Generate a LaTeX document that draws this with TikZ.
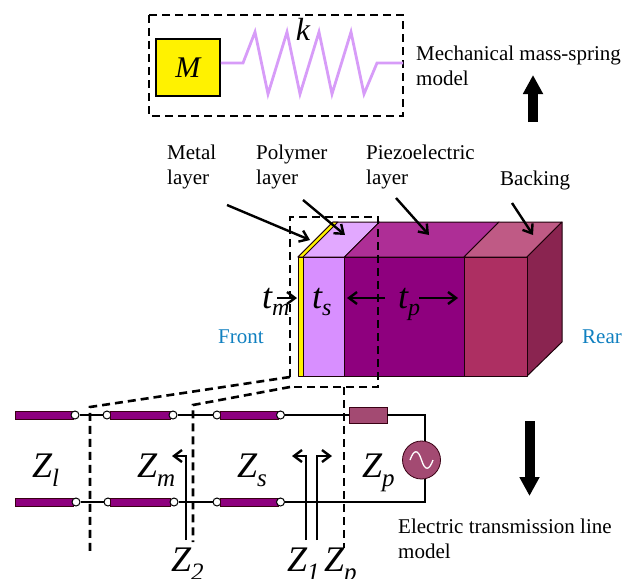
\documentclass[tikz,border=0pt]{standalone}
\usepackage{fontspec}
\setmainfont{Liberation Serif}
\usetikzlibrary{arrows.meta}
\definecolor{piezoF}{HTML}{8E007E}
\definecolor{piezoT}{HTML}{AE2E96}
\definecolor{polyF}{HTML}{D88FFF}
\definecolor{polyT}{HTML}{E2A8FF}
\definecolor{backF}{HTML}{AD2F62}
\definecolor{backT}{HTML}{BF5A85}
\definecolor{backR}{HTML}{8A2450}
\definecolor{elem}{HTML}{A34A72}
\definecolor{springc}{HTML}{D79CF8}
\definecolor{sideblue}{HTML}{1080C0}
\tikzset{
  dashln/.style={draw=black,line width=2.6pt,dash pattern=on 8pt off 5pt},
  wire/.style={draw=black,line width=2pt},
  face/.style={draw=black!85!purple,line width=1pt,line join=round},
  lead/.style={draw=black,line width=2.4pt,-{Straight Barb[length=8pt,width=12pt,line width=2.4pt]}},
  seg/.style={draw=black!70!purple,line width=0.6pt,fill=piezoF,minimum height=8pt,inner sep=0pt},
  term/.style={circle,draw=black,fill=white,line width=1pt,minimum size=8pt,inner sep=0pt},
  lab/.style={font=\fontsize{21}{25.5}\selectfont,align=left,inner sep=0pt,text=black},
  sym/.style={font=\fontsize{36}{36}\selectfont\itshape,inner sep=0pt},
  big/.style={draw=black,line width=10pt,-{Triangle[length=19pt,width=19pt]}}
}
\newcommand{\sy}[2]{#1\raisebox{-9pt}{\fontsize{25}{25}\selectfont #2}}
\newcommand{\syt}[2]{#1\raisebox{-7pt}{\fontsize{24}{24}\selectfont #2}}
\begin{document}
\begin{tikzpicture}[x=1pt,y=-1pt]
\useasboundingbox (0,0) rectangle (626,578);
% mass-spring
\draw[dashln] (149,15) rectangle (403,116);
\node[draw=black,line width=1.9pt,fill=yellow,minimum width=64pt,minimum height=57pt,inner sep=0pt,anchor=north west,font=\fontsize{30}{30}\selectfont\itshape] (mass) at (155,38) {M};
\coordinate (springend) at (403,63);
\draw[draw=springc,line width=2.8pt,line join=miter] (mass.east |- springend) -- (243,63) -- (255,32) -- (268,94) -- (287,32) -- (300,94) -- (319,32) -- (332,94) -- (351,32) -- (364,94) -- (377,63) -- (springend);
\node[font=\fontsize{32}{32}\selectfont\itshape,inner sep=0pt,anchor=base] (klab) at (303,41) {k};
\node[lab,anchor=north west] (mech) at (416,45.5) {Mechanical mass-spring\\model};
\draw[big] (533,122) -- (533,75);
% labels above block
\node[lab,anchor=north west] (metal) at (167,144.5) {Metal\\layer};
\node[lab,anchor=north west] (poly) at (256,144.5) {Polymer\\layer};
\node[lab,anchor=north west] (piezo) at (366,144.5) {Piezoelectric\\layer};
\node[lab,anchor=north west] (back) at (500,170.5) {Backing};
% block
\filldraw[face,fill=polyT] (298,257) -- (333,222) -- (379.5,222) -- (344.5,257) -- cycle;
\filldraw[face,fill=yellow] (298,257) -- (333,222) -- (338,222) -- (303,257) -- cycle;
\filldraw[face,fill=piezoT] (344.5,257) -- (379.5,222) -- (499,222) -- (464,257) -- cycle;
\filldraw[face,fill=backT] (464,257) -- (499,222) -- (562,222) -- (527,257) -- cycle;
\filldraw[face,fill=backR] (527,257) -- (562,222) -- (562,342) -- (527,376) -- cycle;
\filldraw[face,fill=yellow] (298,257) rectangle (303,376);
\filldraw[face,fill=polyF] (303,257) rectangle (344.5,376);
\filldraw[face,fill=piezoF] (344.5,257) rectangle (464,376);
\filldraw[face,fill=backF] (464,257) rectangle (527,376);
% leader arrows
\coordinate (m0) at (227,205); \coordinate (m1) at (310,240);
\coordinate (p0) at (303,200); \coordinate (p1) at (345,235);
\coordinate (z0) at (396,198); \coordinate (z1) at (429,235);
\coordinate (b0) at (512,203); \coordinate (b1) at (533,235);
\draw[lead] (m0) -- (m1);
\draw[lead] (p0) -- (p1);
\draw[lead] (z0) -- (z1);
\draw[lead] (b0) -- (b1);
% thickness
\coordinate (tm0) at (277,298); \coordinate (tm1) at (297,298);
\coordinate (ts0) at (385,298); \coordinate (ts1) at (347,298);
\coordinate (tp0) at (419,298); \coordinate (tp1) at (458,298);
\draw[lead] (tm0) -- (tm1);
\draw[lead] (ts0) -- (ts1);
\draw[lead] (tp0) -- (tp1);
\node[sym,anchor=base west] (tml) at (262,308) {\syt{t}{m}};
\node[sym,anchor=base west] (tsl) at (312,308) {\syt{t}{s}};
\node[sym,anchor=base west] (tpl) at (398,308) {\syt{t}{p}};
\node[lab,text=sideblue,anchor=base west] (front) at (218,343) {Front};
\node[lab,text=sideblue,anchor=base west] (rear) at (582,343) {Rear};
% dashed crop
\coordinate (c1) at (290,217); \coordinate (c2) at (378,217); \coordinate (c3) at (378,387); \coordinate (c4) at (290,387); \coordinate (c5) at (290,377);
\coordinate (c6) at (344,387);
\coordinate (v1a) at (90,407); \coordinate (v1b) at (90,552);
\coordinate (v2a) at (193,405); \coordinate (v2b) at (193,542);
\coordinate (v3b) at (344,548);
\draw[dashln] (c5) -- (c1) -- (c2) -- (c3) -- (c4);
\draw[dashln] (c5) -- (v1a) -- (v1b);
\draw[dashln] (c4) -- (v2a) -- (v2b);
\draw[dashln] (c6) -- (v3b);
% transmission line
\coordinate (wtr) at (425,415); \coordinate (wbr) at (425,502);
\foreach \n/\b/\c/\d/\yy in {t/75/107/173/415,b/76/108/174/502}{
  \node[seg,anchor=west,minimum width=58pt] (\n s1) at (15,\yy) {};
  \node[term] (\n a) at (\b,\yy) {};
  \node[term] (\n b) at (\c,\yy) {};
  \node[seg,anchor=west,minimum width=60pt] (\n s2) at (110,\yy) {};
  \node[term] (\n c) at (\d,\yy) {};
  \node[term] (\n d) at (217,\yy) {};
  \node[seg,anchor=west,minimum width=58pt] (\n s3) at (220,\yy) {};
  \node[term] (\n e) at (280.5,\yy) {};
  \draw[wire] (\n a) -- (\n b);
  \draw[wire] (\n c) -- (\n d);
}
\node[draw=black!70!purple,line width=0.8pt,fill=elem,minimum width=38pt,minimum height=16pt,inner sep=0pt] (res) at (368,415) {};
\node[circle,draw=black!70!purple,line width=0.8pt,fill=elem,minimum size=38pt,inner sep=0pt] (src) at (421.5,460) {};
\draw[white,line width=1.3pt] (410,460) .. controls (414,449) and (418,449) .. (421.5,460) .. controls (425,471) and (429,471) .. (433,460);
\draw[wire] (te) -- (res);
\draw[wire] (res) -- (wtr) -- (src.north -| wtr);
\draw[wire] (be) -- (wbr) -- (src.south -| wbr);
% Z labels
\node[sym,anchor=base west] (zl) at (32,477) {\sy{Z}{l}};
\node[sym,anchor=base west] (zm) at (137,477) {\sy{Z}{m}};
\node[sym,anchor=base west] (zs) at (237,477) {\sy{Z}{s}};
\node[sym,anchor=base west] (zp) at (362,477) {\sy{Z}{p}};
\node[sym,anchor=base west] (z2) at (171,571) {\sy{Z}{2}};
\node[sym,anchor=base west] (z1) at (287,571) {\sy{Z}{1}};
\node[sym,anchor=base west] (zpb) at (324,571) {\sy{Z}{p}};
\coordinate (a1) at (186,540); \coordinate (a1m) at (186,456); \coordinate (a1e) at (172,456);
\coordinate (a2) at (306,540); \coordinate (a2m) at (306,456); \coordinate (a2e) at (292,456);
\coordinate (a3) at (317,540); \coordinate (a3m) at (317,456); \coordinate (a3e) at (332,456);
\draw[lead] (a1) -- (a1m) -- (a1e);
\draw[lead] (a2) -- (a2m) -- (a2e);
\draw[lead] (a3) -- (a3m) -- (a3e);
\draw[big] (529.5,421) -- (529.5,496);
\node[lab,anchor=north west] (elec) at (398,518.5) {Electric transmission line\\model};
\end{tikzpicture}
\end{document}
